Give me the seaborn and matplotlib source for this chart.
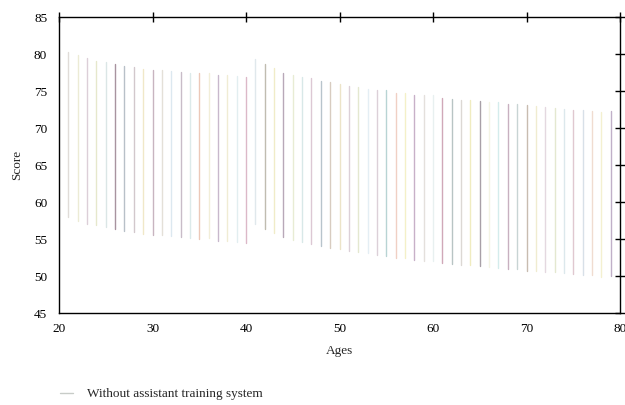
import numpy as np
import pandas as pd
import matplotlib
matplotlib.use("Agg")
import matplotlib.pyplot as plt
import seaborn as sns
from matplotlib.lines import Line2D

ages = list(range(21, 80))
score_high = [80.3, 79.8, 79.4, 79.1, 78.9, 78.6, 78.4, 78.3, 78.0, 77.9,
              77.8, 77.7, 77.6, 77.5, 77.4, 77.5, 77.2, 77.1, 77.0, 76.9,
              79.35, 78.7, 78.1, 77.5, 77.2, 76.9, 76.7, 76.4, 76.2, 76.0,
              75.7, 75.5, 75.3, 75.1, 75.1, 74.8, 74.7, 74.5, 74.4, 74.4,
              74.1, 73.95, 73.8, 73.8, 73.6, 73.5, 73.45, 73.3, 73.2, 73.1,
              73.0, 72.9, 72.7, 72.6, 72.5, 72.45, 72.3, 72.1, 72.3]
score_low = [58.0, 57.4, 57.1, 56.9, 56.6, 56.3, 56.1, 56.0, 55.7, 55.6,
             55.5, 55.4, 55.3, 55.2, 55.0, 55.2, 54.8, 54.7, 54.6, 54.5,
             57.05, 56.3, 55.8, 55.25, 54.9, 54.6, 54.35, 54.1, 53.85, 53.6,
             53.35, 53.2, 53.1, 52.85, 52.7, 52.45, 52.4, 52.2, 52.05, 52.0,
             51.8, 51.65, 51.55, 51.55, 51.3, 51.2, 51.1, 50.97, 50.9, 50.75,
             50.65, 50.6, 50.5, 50.4, 50.3, 50.2, 50.1, 49.9, 50.0]
line_colors = ["#e0dcd8", "#ecebd5", "#dccfd8", "#e6e8cc", "#dbe6e6", "#a8939f", "#b8c0c8",
               "#d2c8cc", "#f0e8c8", "#c8b4c0", "#e4e0d8", "#dce8f0", "#c8bcc8", "#dceaea",
               "#ecc8b8", "#f2eed8", "#c8b8cc", "#f0ecd4", "#e2eef0", "#dcb8c8",
               "#e0e8ec", "#c0bcb0", "#f0ecc8", "#b8a8b8", "#e8ecd4", "#d8e8e8", "#dcc8d4",
               "#b8c4cc", "#d8ccc0", "#ece4c8", "#dcd0d8", "#e4e8d0", "#e4eef4", "#dcd0d8",
               "#b8d4d4", "#f0d0c4", "#f4f0c8", "#c8b0c8", "#e4e0dc", "#e8f0f0",
               "#d0a8b8", "#b8c4c4", "#dcd8d4", "#f0ecc0", "#a8a0a8", "#f4f4e4", "#d4ecec",
               "#c8b0c0", "#c8d4d4", "#c8bcb0", "#f0ecd0", "#e4d8e0", "#e4e8d0", "#dce8ec",
               "#e0c8d0", "#d8e0e8", "#f0dcd0", "#f4f0d0", "#c0b0c8"]
legend_label = "Without assistant training system"
x_ticks = [20, 30, 40, 50, 60, 70, 80]
y_ticks = [45, 50, 55, 60, 65, 70, 75, 80, 85]

df = pd.DataFrame({
    "age": ages * 2,
    "score": score_high + score_low,
})

sns.set_style("white")
plt.rcParams["font.family"] = ["Liberation Serif", "DejaVu Serif"]
FS = 9.5
plt.rcParams["font.size"] = FS

fig = plt.figure(figsize=(6.25, 4.05), dpi=100)
ax = fig.add_axes([0.0944, 0.227, 0.8976, 0.731])

palette = {a: c for a, c in zip(ages, line_colors)}
sns.lineplot(data=df, x="age", y="score", hue="age", units="age",
             estimator=None, palette=palette, legend=False, lw=1.0, ax=ax)

ax.set_xlim(20, 80)
ax.set_ylim(45, 85)
ax.set_xticks(x_ticks)
ax.set_yticks(y_ticks)
ax.set_xlabel("Ages", fontsize=FS, labelpad=7)
ax.set_ylabel("Score", fontsize=FS, labelpad=8)
for s in ax.spines.values():
    s.set_visible(True)
    s.set_color("black")
    s.set_linewidth(1.0)
ax.tick_params(direction="inout", length=7, width=1.0, top=True, right=True,
               labelsize=FS, colors="black")
ax.tick_params(axis="x", pad=4)
ax.tick_params(axis="y", pad=5)

handle = Line2D([0], [0], color="#c8ccc8", lw=1.0)
fig.legend([handle], [legend_label], loc="center left",
           bbox_to_anchor=(0.096, 0.027), frameon=False, fontsize=FS,
           handlelength=1.0, handletextpad=1.05, borderpad=0, borderaxespad=0)

fig.savefig("out.png", dpi=100)
